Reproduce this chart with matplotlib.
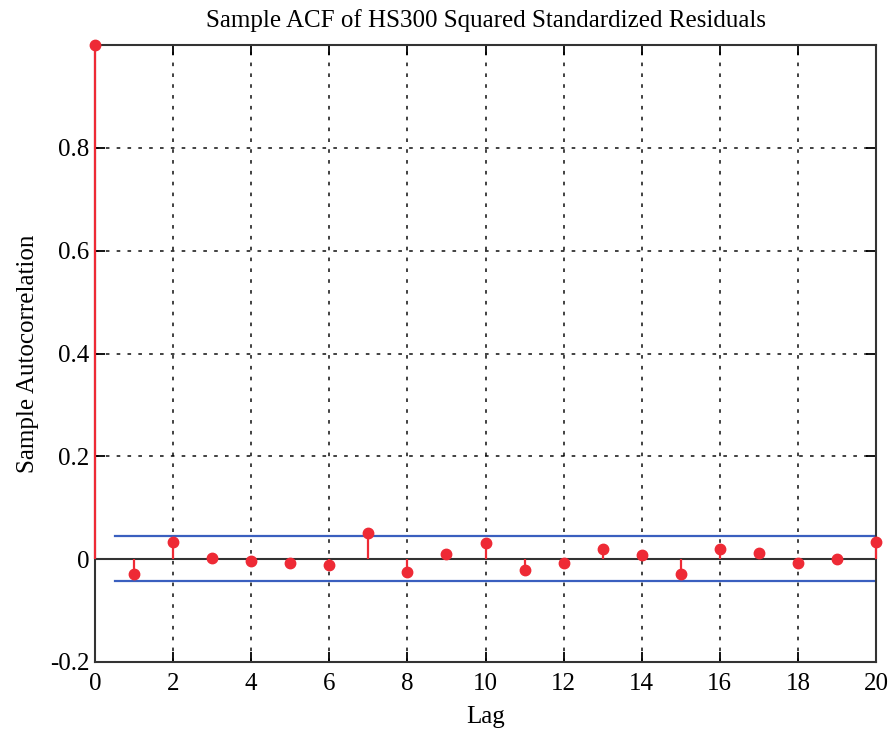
import matplotlib.pyplot as plt
import numpy as np

plt.rcParams['font.family'] = ['Liberation Serif', 'DejaVu Serif']

lags = np.arange(0, 21)
acf = [1.0, -0.028, 0.034, 0.003, -0.003, -0.007, -0.011, 0.05, -0.025, 0.01,
       0.031, -0.021, -0.007, 0.02, 0.008, -0.028, 0.02, 0.011, -0.008, 0.0, 0.034]
upper_bound = 0.045
lower_bound = -0.042

fig = plt.figure(figsize=(8.88, 7.29), dpi=100)
ax = fig.add_axes([0.107, 0.092, 0.8795, 0.846])

ax.grid(True, color='black', linestyle=(0, (2, 4)), linewidth=1.3, alpha=0.8)
ax.set_axisbelow(True)
ax.axhline(0, color='#333333', linewidth=1.5, zorder=2)
ax.plot([0.5, 20], [upper_bound, upper_bound], color='#3a5fbf', linewidth=1.6, zorder=2)
ax.plot([0.5, 20], [lower_bound, lower_bound], color='#3a5fbf', linewidth=1.6, zorder=2)

ml, sl, bl = ax.stem(lags, acf, basefmt=' ')
plt.setp(sl, color='#ee2a35', linewidth=1.6, zorder=5)
plt.setp(ml, color='#ee2a35', markersize=7.5, clip_on=False, zorder=6)
sl.set_clip_on(False)

ax.set_xlim(0, 20)
ax.set_ylim(-0.2, 1.0)
ax.set_xticks(np.arange(0, 21, 2))
ax.set_yticks([-0.2, 0, 0.2, 0.4, 0.6, 0.8])
ax.set_yticklabels(['-0.2', '0', '0.2', '0.4', '0.6', '0.8'])
ax.tick_params(direction='in', length=7, width=1.3, labelsize=18, pad=4,
               top=True, right=True)
ax.tick_params(axis='x', pad=8)
for s in ax.spines.values():
    s.set_color('#333333')
    s.set_linewidth(1.5)

ax.set_title('Sample ACF of HS300 Squared Standardized Residuals', fontsize=18, pad=13)
ax.set_xlabel('Lag', fontsize=18, labelpad=8)
ax.set_ylabel('Sample Autocorrelation', fontsize=18, labelpad=8)

plt.savefig('out.png', dpi=100)
